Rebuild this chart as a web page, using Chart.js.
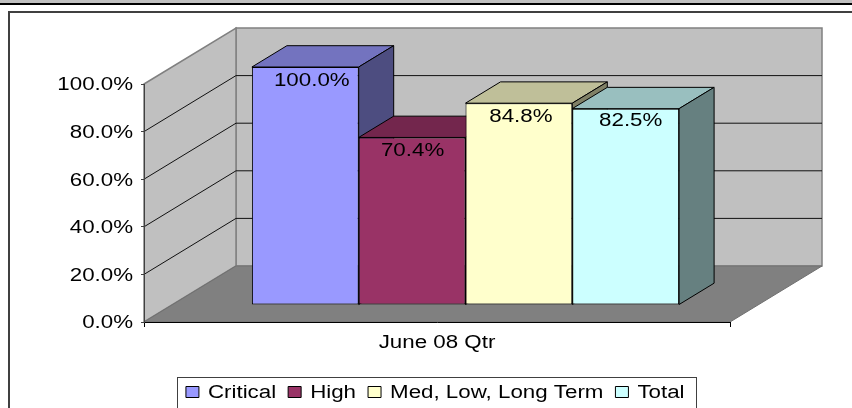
<!DOCTYPE html>
<html>
<head>
<meta charset="utf-8">
<style>html,body{margin:0;padding:0;background:#fff}canvas{display:block}</style>
<script src="https://cdn.jsdelivr.net/npm/chart.js@4"></script>
</head>
<body>
<canvas id="c" width="852" height="408"></canvas>
<script>
const categories = ['June 08 Qtr'];
const seriesNames = ['Critical', 'High', 'Med, Low, Long Term', 'Total'];
const critical = [100.0];
const high = [70.4];
const medLowLong = [84.8];
const total = [82.5];
const seriesValues = [critical, high, medLowLong, total];
const frontColors = ['#9999FF', '#993366', '#FFFFCC', '#CCFFFF'];
const topColors = ['#7373BF', '#73264D', '#BFBF99', '#99BFBF'];
const sideColors = ['#4D4D80', '#4D1A33', '#808066', '#668080'];

const FONT = 'Liberation Sans';
const FS = 18, SX = 1.24;
// perspective of the 3-D box, in pixels
const WALL = {dx: 92, dy: -56};
const BAR_SHIFT = {dx: 28.5, dy: -17};
const BAR_DEPTH = {dx: 35, dy: -21.3};
const LABEL_NUDGE = [{x: 6.5, y: 13}, {x: 0.5, y: 12.5}, {x: 2, y: 12.5}, {x: 5, y: 10.5}];
const LEGEND_SHIFT = -1.75;

const canvas = document.getElementById('c');
const ctx = canvas.getContext('2d');
// the reference's text is stretched horizontally
const rawFill = ctx.fillText.bind(ctx), rawMeasure = ctx.measureText.bind(ctx);
ctx.fillText = function (t, x, y) {
  const dy = ctx.textBaseline === 'middle' ? 1.5 : 0;
  ctx.save(); ctx.translate(x, y + dy); ctx.scale(SX, 1); rawFill(t, 0, 0); ctx.restore();
};
ctx.measureText = function (t) { return {width: rawMeasure(t).width * SX}; };

function poly(c, pts, fill, stroke, w) {
  c.beginPath();
  pts.forEach((p, i) => i ? c.lineTo(p[0], p[1]) : c.moveTo(p[0], p[1]));
  c.closePath();
  if (fill) { c.fillStyle = fill; c.fill(); }
  if (stroke) { c.strokeStyle = stroke; c.lineWidth = w || 1; c.stroke(); }
}
function seg(c, x0, y0, x1, y1, col, w) {
  c.beginPath(); c.moveTo(x0, y0); c.lineTo(x1, y1);
  c.strokeStyle = col; c.lineWidth = w || 1; c.stroke();
}

const box3d = {
  id: 'box3d',
  afterLayout(chart) {
    chart.legend.left += LEGEND_SHIFT;
    chart.legend.right += LEGEND_SHIFT;
  },
  beforeDraw(chart) {
    const c = chart.ctx, a = chart.chartArea, y = chart.scales.y;
    const L = a.left, R = a.right, T = a.top, B = a.bottom, dx = WALL.dx, dy = WALL.dy;
    c.save();
    c.fillStyle = '#fff'; c.fillRect(0, 0, 852, 408);
    // page chrome above the chart
    c.fillStyle = '#c0c0c0'; c.fillRect(0, 0, 852, 3);
    c.fillStyle = '#000'; c.fillRect(0, 3, 852, 2);
    c.fillStyle = '#404040'; c.fillRect(8, 11, 844, 2); c.fillRect(8, 11, 2, 397);
    // walls and floor
    poly(c, [[L + dx, T + dy], [R + dx, T + dy], [R + dx, B + dy], [L + dx, B + dy]], '#c0c0c0', '#808080', 1.5);
    poly(c, [[L, T], [L + dx, T + dy], [L + dx, B + dy], [L, B]], '#c0c0c0', '#808080', 1.5);
    poly(c, [[L, B], [L + dx, B + dy], [R + dx, B + dy], [R, B]], '#808080', '#707070', 1);
    // gridlines on both walls
    y.ticks.forEach(t => {
      if (t.value <= 0 || t.value >= 100) return;
      const py = y.getPixelForValue(t.value);
      seg(c, L, py, L + dx, py + dy, '#111');
      seg(c, L + dx, py + dy, R + dx, py + dy, '#111');
    });
    c.restore();
  },
  beforeDatasetsDraw(chart) {
    const c = chart.ctx;
    c.save();
    c.translate(BAR_SHIFT.dx, BAR_SHIFT.dy);
    seriesNames.forEach((_, i) => {
      const el = chart.getDatasetMeta(i).data[0];
      const l = el.x - el.width / 2, r = el.x + el.width / 2, t = el.y, b = el.base;
      const dx = BAR_DEPTH.dx, dy = BAR_DEPTH.dy;
      poly(c, [[l, t], [r, t], [r + dx, t + dy], [l + dx, t + dy]], topColors[i], '#000', 1);
      poly(c, [[r, t], [r + dx, t + dy], [r + dx, b + dy], [r, b]], sideColors[i], '#000', 1);
    });
  },
  afterDatasetsDraw(chart) {
    const c = chart.ctx;
    c.restore();
    c.save();
    c.font = FS + 'px "' + FONT + '"';
    c.fillStyle = '#000'; c.textAlign = 'center'; c.textBaseline = 'middle';
    seriesNames.forEach((_, i) => {
      const el = chart.getDatasetMeta(i).data[0];
      const n = LABEL_NUDGE[i];
      c.fillText(seriesValues[i][0].toFixed(1) + '%', el.x + BAR_SHIFT.dx + n.x, el.y + BAR_SHIFT.dy + n.y);
    });
    c.restore();
  },
  afterDraw(chart) {
    const c = chart.ctx, hb = chart.legend.legendHitBoxes;
    const l = hb[0].left - 9, r = hb[hb.length - 1].left + hb[hb.length - 1].width + 11;
    c.save();
    c.strokeStyle = '#404040'; c.lineWidth = 1;
    c.strokeRect(Math.round(l) + .5, 377.5, Math.round(r - l), 40);
    c.restore();
  }
};

new Chart(ctx, {
  type: 'bar',
  data: {
    labels: categories,
    datasets: seriesNames.map((name, i) => ({
      label: name,
      data: seriesValues[i],
      backgroundColor: frontColors[i],
      borderColor: '#000',
      borderWidth: 1,
      borderSkipped: false,
      clip: false
    }))
  },
  plugins: [box3d],
  options: {
    responsive: false,
    animation: false,
    events: [],
    categoryPercentage: 0.729,
    barPercentage: 1,
    layout: {padding: {left: 8, top: 84, right: 122, bottom: -3}},
    plugins: {
      tooltip: {enabled: false},
      title: {display: false},
      legend: {
        position: 'bottom',
        fullSize: false,
        labels: {
          font: {family: FONT, size: FS},
          color: '#000',
          boxWidth: 13,
          boxHeight: 11,
          padding: 12
        }
      }
    },
    scales: {
      x: {
        grid: {drawOnChartArea: false, drawTicks: true, tickLength: 5, color: '#000'},
        border: {display: true, color: '#000', width: 1},
        ticks: {font: {family: FONT, size: FS}, color: '#000', padding: 4, maxRotation: 0},
        afterFit(s) { s.height = 49; }
      },
      y: {
        min: 0, max: 100,
        grid: {drawOnChartArea: false, drawTicks: true, tickLength: 3, color: '#404040'},
        border: {display: true, color: '#404040', width: 1},
        ticks: {
          stepSize: 20,
          font: {family: FONT, size: FS},
          color: '#000',
          padding: 8,
          callback: v => v.toFixed(1) + '%'
        },
        afterFit(s) { s.width = 136; }
      }
    }
  }
});
</script>
</body>
</html>
